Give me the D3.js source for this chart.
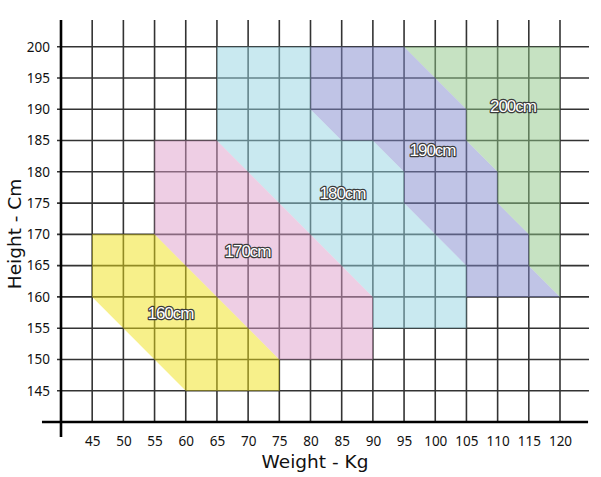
<!DOCTYPE html>
<html>
<head>
<meta charset="utf-8">
<script src="https://cdn.jsdelivr.net/npm/d3@7"></script>
<style>
  html, body { margin: 0; padding: 0; background: #fff; }
  svg { display: block; }
</style>
</head>
<body>
<svg id="chart" width="601" height="477"></svg>
<script>
// ---- data ----
const weightTicks = [45, 50, 55, 60, 65, 70, 75, 80, 85, 90, 95, 100, 105, 110, 115, 120];
const heightTicks = [145, 150, 155, 160, 165, 170, 175, 180, 185, 190, 195, 200];
const zoneNames = ["160cm", "170cm", "180cm", "190cm", "200cm"];
// polygon vertices [weight kg, height cm]
const zone160 = [[45,170],[55,170],[75,150],[75,145],[60,145],[45,160]];
const zone170 = [[55,185],[65,185],[90,160],[90,150],[75,150],[55,170]];
const zone180 = [[65,200],[80,200],[80,190],[85,185],[90,185],[95,180],[95,175],[105,165],[105,155],[90,155],[90,160],[65,185]];
const zone190 = [[80,200],[95,200],[105,190],[105,185],[110,180],[110,175],[115,170],[115,165],[120,160],[105,160],[105,165],[95,175],[95,180],[90,185],[85,185],[80,190]];
const zone200 = [[95,200],[120,200],[120,160],[115,165],[115,170],[110,175],[110,180],[105,185],[105,190]];
const zoneLabelWeight = [57.55, 69.9, 85.13, 99.56, 112.46];
const zoneLabelHeight = [157.43, 167.42, 176.69, 183.49, 190.6];

// ---- styles ----
const zoneColors = ["#efe115", "#dd9dc9", "#93d3e1", "#8189cd", "#8dc585"];
const zones = [zone160, zone170, zone180, zone190, zone200];

const svg = d3.select("#chart");
const x = d3.scaleLinear().domain([40, 120]).range([61, 560]);
const y = d3.scaleLinear().domain([140, 200]).range([422, 46.7]);

const gridTop = 204.27, gridRight = 124.65, gridLeft = 39.36;

// grid
const grid = svg.append("g").attr("stroke", "#333").attr("stroke-width", 1.6);
grid.selectAll("line.v").data(weightTicks).join("line")
  .attr("x1", d => x(d)).attr("x2", d => x(d))
  .attr("y1", y(gridTop)).attr("y2", y(140));
grid.selectAll("line.h").data(heightTicks).join("line")
  .attr("x1", x(gridLeft)).attr("x2", x(gridRight))
  .attr("y1", d => y(d)).attr("y2", d => y(d));

// zones
const line = d3.line().x(d => x(d[0])).y(d => y(d[1])).curve(d3.curveLinearClosed);
svg.append("g").selectAll("path").data(zones).join("path")
  .attr("d", d => line(d))
  .attr("fill", (d, i) => zoneColors[i])
  .attr("fill-opacity", 0.5)
  .attr("stroke", "none");

// axes lines
svg.append("line")
  .attr("x1", x(40)).attr("x2", x(40))
  .attr("y1", y(gridTop)).attr("y2", y(137.6))
  .attr("stroke", "#000").attr("stroke-width", 2.6);
svg.append("line")
  .attr("x1", x(36.95)).attr("x2", x(124.5))
  .attr("y1", y(140)).attr("y2", y(140))
  .attr("stroke", "#000").attr("stroke-width", 2.6);

// tick labels via d3 axes
const xAxis = svg.append("g").attr("transform", `translate(0,${y(140)})`)
  .call(d3.axisBottom(x).tickValues(weightTicks).tickSize(0).tickPadding(14));
xAxis.select(".domain").remove();
xAxis.selectAll("text").attr("font-family", "'Noto Sans', sans-serif").attr("font-size", 13.5).attr("fill", "#111");

const yAxis = svg.append("g").attr("transform", `translate(${x(40)},0)`)
  .call(d3.axisLeft(y).tickValues(heightTicks).tickSize(0).tickPadding(11));
yAxis.select(".domain").remove();
yAxis.selectAll("text").attr("font-family", "'Noto Sans', sans-serif").attr("font-size", 13.5).attr("fill", "#111");

// axis titles
svg.append("text")
  .attr("x", 315).attr("y", 468)
  .attr("text-anchor", "middle")
  .attr("font-family", "'DejaVu Sans', sans-serif").attr("font-size", 18.5)
  .attr("fill", "#111")
  .text("Weight - Kg");
svg.append("text")
  .attr("transform", "translate(21,234) rotate(-90)")
  .attr("text-anchor", "middle")
  .attr("font-family", "'DejaVu Sans', sans-serif").attr("font-size", 18.5)
  .attr("fill", "#111")
  .text("Height - Cm");

// zone labels
svg.append("g").selectAll("text").data(zoneNames).join("text")
  .attr("x", (d, i) => x(zoneLabelWeight[i]))
  .attr("y", (d, i) => y(zoneLabelHeight[i]))
  .attr("dy", "0.36em")
  .attr("text-anchor", "middle")
  .attr("font-family", "'Liberation Sans', Arial, sans-serif")
  .attr("font-size", 17)
  .attr("letter-spacing", "-1px")
  .attr("fill", "#ffffff")
  .attr("stroke", "#3a3a3a")
  .attr("stroke-width", 2.4)
  .attr("stroke-linejoin", "round")
  .attr("paint-order", "stroke")
  .text(d => d);
</script>
</body>
</html>
